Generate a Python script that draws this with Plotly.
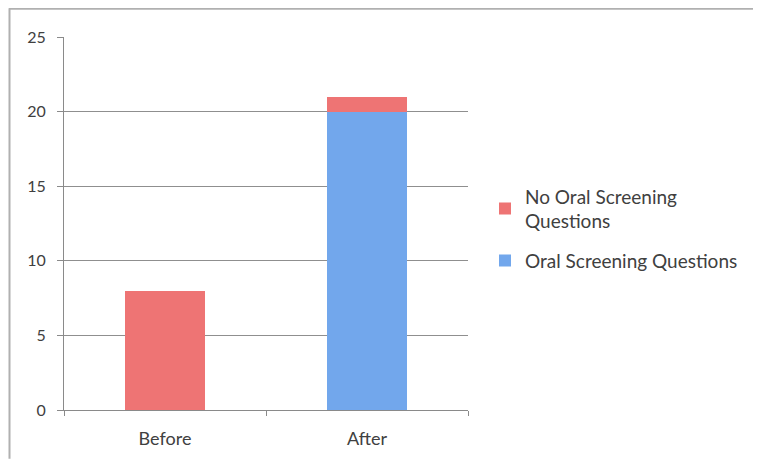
import plotly.graph_objects as go

categories = ["Before", "After"]
oral_screening = [0, 20]
no_oral_screening = [8, 1]
y_ticks = [0, 5, 10, 15, 20, 25]

# figure is placed at an 8px offset inside the page (body margin)
W, H = 753, 453
L, T = 56, 29
R = W - 460
B = H - 404
pw, ph = W - L - R, H - T - B

def px_x(px):
    return (px - L) / pw

def px_y(py):
    return 1 - (py - T) / ph

FONT = "Lato, Open Sans, sans-serif"
TXT = "#404040"

fig = go.Figure()
fig.add_trace(go.Bar(
    x=categories, y=oral_screening, name="Oral Screening Questions",
    legendgroup="a", legendrank=2,
    marker=dict(color="#72a7ec", line=dict(width=0)), width=0.4,
))
fig.add_trace(go.Bar(
    x=categories, y=no_oral_screening, name="No Oral Screening<br>Questions",
    legendgroup="b", legendrank=1,
    marker=dict(color="#ee7474", line=dict(width=0)), width=0.4,
))

fig.update_layout(
    width=W, height=H, barmode="stack",
    margin=dict(l=L, r=R, t=T, b=B, pad=0),
    plot_bgcolor="white", paper_bgcolor="white",
    font=dict(family=FONT, size=17, color=TXT),
    showlegend=True,
    legend=dict(x=px_x(477), y=px_y(170), xanchor="left", yanchor="top",
                traceorder="grouped", tracegroupgap=12,
                font=dict(size=19, color=TXT, family=FONT),
                itemwidth=30, bgcolor="rgba(0,0,0,0)"),
    xaxis=dict(showline=True, linecolor="#8a8a8a", linewidth=1,
               ticks="outside", tickson="boundaries", ticklen=5, tickcolor="#8a8a8a",
               showgrid=False, ticklabelstandoff=12,
               tickfont=dict(size=18, color=TXT, family=FONT)),
    yaxis=dict(range=[0, 25], tickvals=y_ticks, showline=True, linecolor="#8a8a8a",
               linewidth=1, ticks="outside", ticklen=6, tickcolor="#8a8a8a",
               showgrid=True, gridcolor="#8f8f8f", gridwidth=1, zeroline=False,
               ticklabelstandoff=8,
               tickfont=dict(size=16, color=TXT, family=FONT)),
    shapes=[
        dict(type="line", xref="paper", yref="paper", x0=px_x(1), x1=px_x(W),
             y0=px_y(0.5), y1=px_y(0.5), line=dict(color="#b0b0b0", width=2)),
        dict(type="line", xref="paper", yref="paper", x0=px_x(1.5), x1=px_x(1.5),
             y0=px_y(0), y1=px_y(H), line=dict(color="#b0b0b0", width=2)),
    ],
)

fig.write_html("out.html")
